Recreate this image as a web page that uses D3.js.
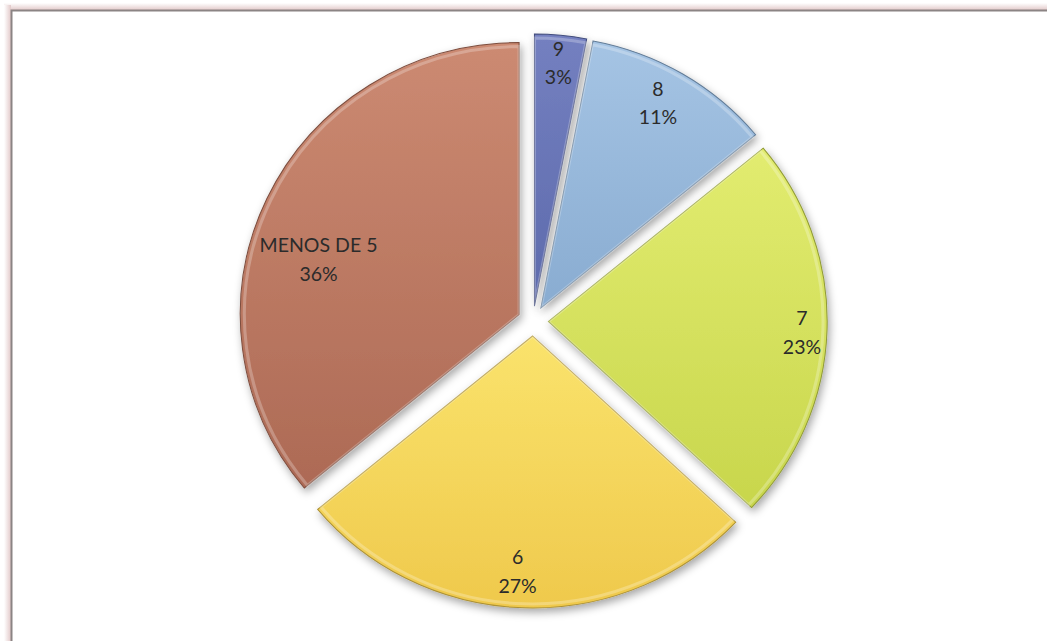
<!DOCTYPE html>
<html>
<head>
<meta charset="UTF-8">
<script src="https://cdn.jsdelivr.net/npm/d3@7"></script>
<style>
body{ margin:0; background:#fff; overflow:hidden; }
text{ font-family: Lato, "Open Sans", sans-serif; }
</style>
</head>
<body>
<script>
// slice data, clockwise from 12 o'clock
var labels = ["9", "8", "7", "6", "MENOS DE 5"]
var values = [3, 11, 23, 27, 36]
var colorsTop = ["#7480c0", "#a5c4e4", "#e2ec70", "#fae36c", "#cc8a72"]
var colorsBot = ["#5d6aac", "#89acd1", "#c8d64c", "#efc94c", "#ad6a55"]

var width = 1047, height = 641

// the original picture is a little wider than tall
var cx = 533, cy = 321, r = 272, explode = 15, sx = 1.025

var svg = d3.select("body").append("svg")
    .attr("width", width)
    .attr("height", height)

var defs = svg.append("defs")

// frame shadow + border
var fs = defs.append("linearGradient").attr("id", "frameTop").attr("x1", 0).attr("y1", 0).attr("x2", 0).attr("y2", 1)
fs.append("stop").attr("offset", 0).attr("stop-color", "#fff")
fs.append("stop").attr("offset", 1).attr("stop-color", "#e2c9c9")
var fl = defs.append("linearGradient").attr("id", "frameLeft").attr("x1", 0).attr("y1", 0).attr("x2", 1).attr("y2", 0)
fl.append("stop").attr("offset", 0).attr("stop-color", "#fff")
fl.append("stop").attr("offset", 1).attr("stop-color", "#e2c9c9")

svg.append("rect").attr("x", 4).attr("y", 3).attr("width", width).attr("height", 7).attr("fill", "url(#frameTop)")
svg.append("rect").attr("x", 4).attr("y", 5).attr("width", 7).attr("height", height).attr("fill", "url(#frameLeft)")
svg.append("rect")
    .attr("x", 11.5).attr("y", 10.5)
    .attr("width", width + 20).attr("height", height + 20)
    .attr("fill", "#fff")
    .attr("stroke", "#8b8484")
    .attr("stroke-width", 2)

var shadow = defs.append("filter").attr("id", "shadow")
    .attr("x", "-20%").attr("y", "-20%").attr("width", "140%").attr("height", "140%")
shadow.append("feDropShadow")
    .attr("dx", 2).attr("dy", 4).attr("stdDeviation", 4)
    .attr("flood-color", "#000").attr("flood-opacity", 0.35)

values.forEach(function(v, i){
  var g = defs.append("linearGradient").attr("id", "grad" + i)
      .attr("x1", 0).attr("y1", 0).attr("x2", 0).attr("y2", 1)
  g.append("stop").attr("offset", 0).attr("stop-color", colorsTop[i])
  g.append("stop").attr("offset", 1).attr("stop-color", colorsBot[i])
})

var pie = d3.pie().sort(null).value(d => d)
var arcs = pie(values)

var arc = d3.arc().innerRadius(0).outerRadius(r)
var bevel = d3.arc().innerRadius(0).outerRadius(r - 4)
var labelArc = d3.arc().innerRadius(r * 0.91).outerRadius(r * 0.91)

function offset(d){
  var a = (d.startAngle + d.endAngle) / 2
  return [explode * Math.sin(a), -explode * Math.cos(a)]
}

var chart = svg.append("g").attr("transform", "translate(" + cx + "," + cy + ") scale(" + sx + ",1)")

var slice = chart.selectAll(".slice")
  .data(arcs)
  .enter().append("g")
    .attr("class", "slice")
    .attr("transform", function(d){
      var o = offset(d)
      return "translate(" + o[0] + "," + o[1] + ")"
    })

slice.append("path")
    .attr("d", arc)
    .attr("fill", (d, i) => "url(#grad" + i + ")")
    .attr("stroke", (d, i) => d3.color(colorsBot[i]).darker(0.9))
    .attr("stroke-width", 1)
    .attr("filter", "url(#shadow)")

// soft inner bevel highlight
slice.append("path")
    .attr("d", bevel)
    .attr("fill", "none")
    .attr("stroke", "#fff")
    .attr("stroke-opacity", 0.25)
    .attr("stroke-width", 3)

// excel's "best fit" nudges a few labels inwards
var nudge = {"8": [-12, 5], "6": [-7, -15], "MENOS DE 5": [29, 47]}

var labelLayer = svg.append("g").attr("transform", "translate(" + cx + "," + cy + ")")

var lbl = labelLayer.selectAll("text")
  .data(arcs)
  .enter().append("text")
    .attr("text-anchor", "middle")
    .attr("font-size", 19.5)
    .attr("fill", "#2b2b2b")
    .attr("transform", function(d, i){
      var o = offset(d)
      var c = labelArc.centroid(d)
      var x = (c[0] + o[0]) * sx, y = c[1] + o[1]
      var n = nudge[labels[i]] || [0, 0]
      return "translate(" + (x + n[0]) + "," + (y + n[1]) + ")"
    })

lbl.append("tspan").attr("x", 0).attr("dy", "-0.2em").text((d, i) => labels[i])
lbl.append("tspan").attr("x", 0).attr("dy", "1.45em").text(d => d3.format(".0%")(d.value / 100))
</script>
</body>
</html>
